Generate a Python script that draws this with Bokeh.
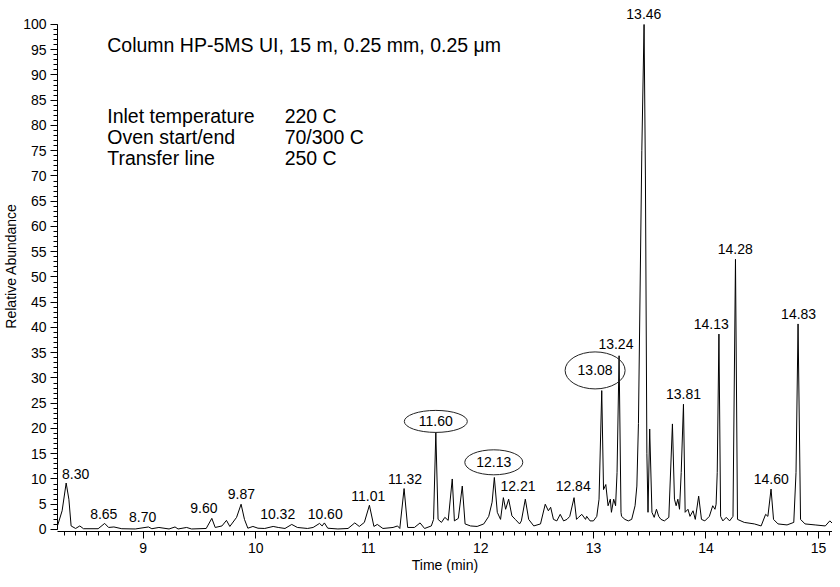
from bokeh.plotting import figure
from bokeh.models import FixedTicker, Range1d
from bokeh.core.properties import value
from bokeh.embed import file_html
from bokeh.resources import INLINE

# ---------------- data ----------------
time_min = [
    8.240, 8.280, 8.316, 8.340, 8.360, 8.400, 8.437, 8.470, 8.600, 8.658,
    8.693, 8.740, 8.810, 8.930, 9.047, 9.077, 9.140, 9.230, 9.283, 9.310,
    9.386, 9.430, 9.560, 9.610, 9.640, 9.700, 9.740, 9.770, 9.830, 9.870,
    9.900, 9.930, 9.975, 10.020, 10.080, 10.155, 10.200, 10.260, 10.320, 10.370,
    10.460, 10.510, 10.567, 10.590, 10.610, 10.640, 10.730, 10.820, 10.880, 10.920,
    10.965, 11.010, 11.050, 11.080, 11.130, 11.220, 11.260, 11.280, 11.318, 11.350,
    11.410, 11.460, 11.500, 11.560, 11.580, 11.600, 11.620, 11.650, 11.680, 11.710,
    11.746, 11.765, 11.800, 11.835, 11.860, 11.908, 11.967, 12.026, 12.070, 12.100,
    12.120, 12.146, 12.175, 12.200, 12.220, 12.247, 12.276, 12.306, 12.344, 12.360,
    12.395, 12.425, 12.470, 12.530, 12.572, 12.600, 12.620, 12.645, 12.675, 12.705,
    12.735, 12.765, 12.790, 12.828, 12.850, 12.867, 12.897, 12.930, 12.940, 12.970,
    13.000, 13.030, 13.050, 13.074, 13.090, 13.110, 13.130, 13.150, 13.160, 13.180,
    13.197, 13.210, 13.228, 13.245, 13.250, 13.280, 13.310, 13.340, 13.370, 13.386,
    13.400, 13.430, 13.450, 13.462, 13.475, 13.485, 13.500, 13.520, 13.540, 13.560,
    13.580, 13.600, 13.630, 13.670, 13.702, 13.720, 13.735, 13.750, 13.765, 13.780,
    13.800, 13.815, 13.840, 13.858, 13.885, 13.905, 13.935, 13.960, 13.990, 14.030,
    14.060, 14.080, 14.090, 14.100, 14.115, 14.130, 14.150, 14.180, 14.210, 14.240,
    14.262, 14.280, 14.340, 14.430, 14.490, 14.530, 14.550, 14.578, 14.600, 14.640,
    14.720, 14.780, 14.800, 14.818, 14.840, 14.880, 14.970, 15.060, 15.100, 15.124,
]
abundance = [
    0.8, 3.7, 9.2, 6.0, 0.7, 0.2, 0.7, 0.15, 0.15, 1.2,
    0.4, 0.5, 0.15, 0.1, 0.5, 0.15, 0.4, 0.1, 0.5, 0.1,
    0.4, 0.1, 0.2, 2.2, 0.4, 0.7, 1.8, 0.6, 2.4, 5.0,
    2.0, 0.25, 0.6, 0.25, 0.2, 0.6, 0.4, 0.2, 1.0, 0.4,
    0.2, 0.4, 1.2, 0.7, 1.3, 0.25, 0.1, 0.2, 1.3, 0.6,
    1.4, 4.8, 0.6, 1.0, 0.2, 0.4, 0.7, 0.2, 8.1, 0.4,
    0.4, 1.3, 0.2, 0.7, 2.0, 19.2, 2.0, 1.4, 2.4, 1.8,
    10.0, 1.7, 2.2, 8.6, 1.1, 0.7, 0.6, 1.1, 2.6, 5.4,
    10.3, 3.4, 2.0, 6.3, 4.0, 6.0, 2.7, 2.0, 1.1, 1.7,
    6.0, 2.0, 0.7, 1.1, 5.0, 3.7, 4.4, 2.0, 1.7, 3.0,
    1.7, 2.0, 2.6, 6.3, 2.0, 2.4, 3.0, 2.0, 2.6, 1.7,
    1.7, 2.6, 6.0, 27.5, 7.9, 8.9, 4.7, 6.0, 3.4, 6.0,
    4.7, 11.3, 34.4, 3.4, 2.6, 2.0, 1.7, 2.0, 4.7, 8.6,
    21.0, 75.0, 100.0, 70.0, 15.0, 3.4, 19.9, 3.4, 2.4, 4.0,
    2.6, 2.0, 1.7, 2.4, 20.9, 6.0, 4.7, 6.0, 4.0, 11.3,
    24.8, 3.4, 4.0, 2.6, 3.7, 2.0, 6.6, 2.0, 1.7, 2.6,
    4.7, 4.0, 5.0, 11.3, 38.7, 2.6, 1.7, 2.4, 1.7, 2.6,
    53.5, 2.0, 1.4, 1.1, 0.7, 3.0, 2.6, 8.0, 2.0, 1.1,
    0.9, 1.4, 11.3, 40.7, 2.0, 1.1, 0.9, 0.7, 1.7, 1.2,
]

# peak labels (plain)
peak_labels = ["8.30", "8.65", "8.70", "9.60", "9.87", "10.32", "10.60", "11.01",
               "11.32", "12.21", "12.84", "13.24", "13.46", "13.81", "14.13",
               "14.28", "14.60", "14.83"]
peak_label_time = [8.40, 8.65, 8.995, 9.54, 9.873, 10.195, 10.617, 11.0,
                   11.327, 12.33, 12.82, 13.20, 13.448, 13.80, 14.047,
                   14.26, 14.58, 14.823]
peak_label_abund = [11.0, 3.0, 2.4, 4.2, 7.1, 3.0, 3.1, 6.7,
                    10.0, 8.65, 8.65, 36.7, 102.0, 26.8, 40.7,
                    55.5, 10.0, 42.6]

# circled peak labels
circled_labels = ["11.60", "12.13", "13.08"]
circled_time = [11.60, 12.115, 13.015]
circled_abund = [21.4, 13.3, 31.5]

# method text
info_names = ["Inlet temperature", "Oven start/end", "Transfer line"]
info_values = ["220 C", "70/300 C", "250 C"]
column_text = "Column HP-5MS UI, 15 m, 0.25 mm, 0.25 \u03bcm"

x_ticks = [9, 10, 11, 12, 13, 14, 15]
y_ticks = list(range(0, 101, 5))

# ---------------- styling / layout ----------------
FONT = "Liberation Sans"
ellipse_w = [63, 58, 60]
ellipse_h = [22, 25, 37]
info_x0 = 8.681
info_x1 = 10.257
column_y = 95.9
info_y = [81.8, 77.7, 73.5]
INFO_SIZE = "19.5px"

p = figure(width=832, height=579,
           x_range=Range1d(8.239, 15.124), y_range=Range1d(-0.4, 104.75),
           output_backend="svg", toolbar_location=None,
           min_border_left=54, min_border_right=0,
           min_border_top=0, min_border_bottom=48)
p.outline_line_color = None
p.grid.visible = False
p.background_fill_color = "white"

p.line(time_min, abundance, line_color="black", line_width=1)

p.text(x=peak_label_time, y=peak_label_abund, text=peak_labels,
       text_font=value(FONT), text_font_size="14px", text_color="black",
       text_align="center", text_baseline="middle")

p.ellipse(x=circled_time, y=circled_abund, width=ellipse_w, height=ellipse_h,
          width_units="screen", height_units="screen",
          fill_color=None, line_color="#222222", line_width=1)
p.text(x=circled_time, y=circled_abund, text=circled_labels,
       text_font=value(FONT), text_font_size="14px", text_color="black",
       text_align="center", text_baseline="middle")

p.text(x=[info_x0], y=[column_y], text=[column_text],
       text_font=value(FONT), text_font_size=INFO_SIZE, text_color="black",
       text_align="left", text_baseline="middle")
p.text(x=[info_x0] * len(info_names), y=info_y, text=info_names,
       text_font=value(FONT), text_font_size=INFO_SIZE, text_color="black",
       text_align="left", text_baseline="middle")
p.text(x=[info_x1] * len(info_values), y=info_y, text=info_values,
       text_font=value(FONT), text_font_size=INFO_SIZE, text_color="black",
       text_align="left", text_baseline="middle")

# x axis
xminor = [round(8.3 + 0.1 * i, 1) for i in range(69)]
p.xaxis.ticker = FixedTicker(ticks=x_ticks, minor_ticks=xminor)
p.xaxis.major_label_overrides = {t: str(t) for t in x_ticks}
p.xaxis.axis_label = "Time (min)"
# y axis
p.yaxis.ticker = FixedTicker(ticks=y_ticks, minor_ticks=list(range(0, 101)))
p.yaxis.bounds = (0, 100)
p.yaxis.axis_label = "Relative Abundance"

for ax in (p.xaxis[0], p.yaxis[0]):
    ax.axis_line_color = "black"
    ax.major_tick_line_color = "black"
    ax.minor_tick_line_color = "black"
    ax.major_tick_in = 0
    ax.minor_tick_in = 0
    ax.major_tick_out = 7
    ax.minor_tick_out = 4
    ax.major_label_text_font = FONT
    ax.major_label_text_font_size = "14px"
    ax.major_label_text_color = "black"
    ax.axis_label_text_font = FONT
    ax.axis_label_text_font_size = "14px"
    ax.axis_label_text_font_style = "normal"
    ax.axis_label_text_color = "black"
    ax.major_label_standoff = 4
    ax.axis_label_standoff = 1

open("out.html", "w").write(file_html(p, INLINE))
